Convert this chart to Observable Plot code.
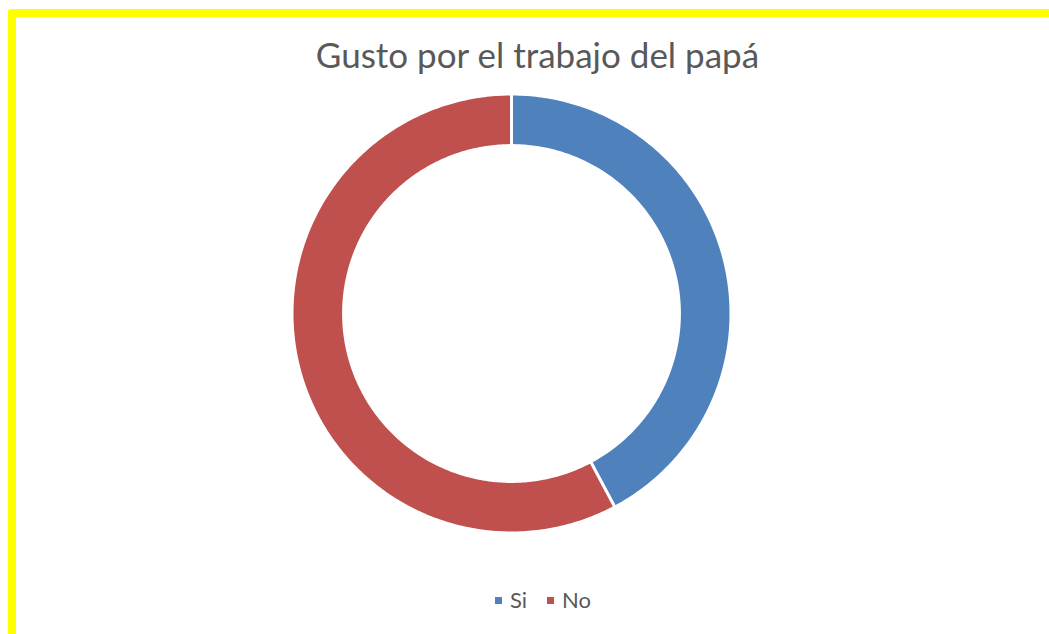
<!DOCTYPE html>
<html><head><meta charset="utf-8">
<script src="https://cdn.jsdelivr.net/npm/d3@7"></script>
<script src="https://cdn.jsdelivr.net/npm/@observablehq/plot@0.6"></script>
<style>
html,body{margin:0;padding:0;background:#fff;overflow:hidden;}
#wrap{position:relative;width:1049px;height:634px;overflow:hidden;font-family:Lato,"Open Sans",sans-serif;}
#frame{position:absolute;left:8px;top:9px;width:1100px;height:700px;border:8px solid #ffff00;border-radius:3px;box-sizing:border-box;}
#title{position:absolute;left:0;top:33px;width:1075px;text-align:center;font-size:35px;color:#595959;}
#legend{position:absolute;left:0;top:586px;width:1106px;text-align:center;font-size:22px;color:#595959;}
#legend span.k{display:inline-block;width:7px;height:7px;margin-right:8px;vertical-align:middle;position:relative;top:-2px;}
#legend span.i{margin-right:20px;}
#chart{position:absolute;left:0;top:0;}
</style></head>
<body><div id="wrap"><div id="frame"></div><div id="chart"></div><div id="title"></div><div id="legend"></div></div>
<script>
const categories = ["Si", "No"];
const values = [42.2, 57.8];
const colors = ["#4F81BD", "#C0504D"];
const titleText = "Gusto por el trabajo del papá";

const rOuter = 1, rInner = 0.765;
const arcs = d3.pie().sort(null).value(d => d.value)(categories.map((c, i) => ({cat: c, value: values[i]})));
const pts = [];
for (const a of arcs) {
  const n = Math.max(20, Math.ceil((a.endAngle - a.startAngle) * 80));
  const ring = [];
  for (let k = 0; k <= n; k++) {
    const t = a.startAngle + (a.endAngle - a.startAngle) * k / n;
    ring.push([rOuter * Math.sin(t), rOuter * Math.cos(t)]);
  }
  for (let k = n; k >= 0; k--) {
    const t = a.startAngle + (a.endAngle - a.startAngle) * k / n;
    ring.push([rInner * Math.sin(t), rInner * Math.cos(t)]);
  }
  ring.push(ring[0]);
  for (const [x, y] of ring) pts.push({cat: a.data.cat, x, y});
}

const R = 219.5, cx = 511, cy = 313;
const chart = Plot.plot({
  width: 1049, height: 634,
  margin: 0,
  x: {domain: [-1, 1], range: [cx - R, cx + R], axis: null},
  y: {domain: [-1, 1], range: [cy + R, cy - R], axis: null},
  color: {domain: categories, range: colors},
  style: {background: "transparent"},
  marks: [
    Plot.line(pts, {x: "x", y: "y", z: "cat", fill: "cat", stroke: "white", strokeWidth: 3, curve: "linear"})
  ]
});
document.getElementById("chart").appendChild(chart);
document.getElementById("title").textContent = titleText;

const leg = document.getElementById("legend");
categories.forEach((c, i) => {
  const k = document.createElement("span"); k.className = "k"; k.style.background = colors[i];
  const t = document.createElement("span"); t.className = "i"; t.textContent = c;
  leg.appendChild(k); leg.appendChild(t);
});
</script></body></html>
